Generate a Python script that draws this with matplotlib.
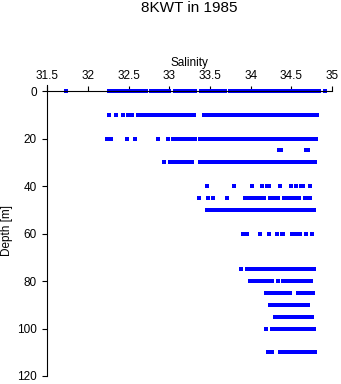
import matplotlib
matplotlib.use("Agg")
import matplotlib.pyplot as plt

plt.rcParams['font.family'] = ['Liberation Sans', 'DejaVu Sans']

# Depth levels [m] and the salinity readings found at each level
depths = [0, 10, 20, 25, 30, 40, 45, 50, 60, 75, 80, 85, 90, 95, 100, 110]

sal_0 = [31.73, 32.26,
         32.31, 32.33, 32.36, 32.39, 32.42, 32.45,
         32.51, 32.54, 32.57, 32.60, 32.63, 32.66, 32.71,
         32.77, 32.80, 32.83, 32.86, 32.89, 32.91, 32.93, 32.96, 32.99,
         33.07, 33.10, 33.13, 33.16, 33.19, 33.22, 33.25, 33.28, 33.31,
         33.39, 33.41, 33.44, 33.47,
         33.52, 33.55, 33.58, 33.61, 33.64, 33.67, 33.69,
         33.74, 33.77, 33.80, 33.83, 33.86, 33.89, 33.92, 33.95, 33.98,
         34.01, 34.04, 34.07, 34.09, 34.11, 34.14, 34.17,
         34.20, 34.23, 34.26, 34.28, 34.30, 34.34,
         34.37, 34.40, 34.43, 34.46,
         34.49, 34.52, 34.55, 34.58, 34.61, 34.64, 34.67, 34.70, 34.73,
         34.76, 34.79, 34.82, 34.84, 34.92]
sal_10 = [32.26, 32.34, 32.43, 32.49, 32.54,
          32.62, 32.65, 32.68, 32.71,
          32.74, 32.77, 32.80, 32.83, 32.86, 32.88,
          32.90, 32.93, 32.96, 32.99, 33.02, 33.05, 33.08, 33.11, 33.13,
          33.16, 33.19, 33.22, 33.25, 33.28, 33.30,
          33.43, 33.46, 33.49, 33.52, 33.55, 33.57, 33.60, 33.63, 33.65,
          33.70, 33.73, 33.76, 33.79, 33.82, 33.85, 33.88, 33.91, 33.94,
          33.97, 34.00, 34.03, 34.06, 34.09, 34.11,
          34.14, 34.17, 34.19, 34.22, 34.25, 34.28, 34.30, 34.33, 34.36,
          34.39, 34.42, 34.45,
          34.47, 34.50, 34.53, 34.56, 34.59, 34.62, 34.65, 34.68, 34.71,
          34.74, 34.77, 34.80, 34.82]
sal_20 = [32.23, 32.28, 32.48, 32.58, 32.86, 32.98,
          33.04, 33.07, 33.10, 33.13, 33.16, 33.19, 33.22,
          33.27, 33.30, 33.32,
          33.38, 33.41, 33.44, 33.47, 33.50, 33.53, 33.57, 33.60,
          33.64, 33.67, 33.70, 33.73, 33.76, 33.79, 33.82, 33.85, 33.88,
          33.91, 33.94, 33.97, 34.00, 34.03, 34.06, 34.09, 34.12, 34.15,
          34.18, 34.21, 34.24, 34.27, 34.30, 34.33, 34.36, 34.39, 34.42, 34.44,
          34.47, 34.50, 34.53, 34.56, 34.59, 34.62, 34.65, 34.68, 34.71,
          34.74, 34.77, 34.80]
sal_25 = [34.35, 34.37, 34.68, 34.70]
sal_30 = [32.93, 33.01, 33.05, 33.09, 33.14, 33.17,
          33.20, 33.23, 33.26, 33.28,
          33.38, 33.41, 33.44, 33.47, 33.50, 33.53, 33.56, 33.59, 33.62,
          33.65, 33.67,
          33.70, 33.73, 33.76, 33.79, 33.82, 33.85, 33.88, 33.91, 33.94,
          33.97, 34.00, 34.03, 34.06, 34.09, 34.11,
          34.13, 34.16, 34.19, 34.22, 34.25, 34.28, 34.31, 34.34, 34.37,
          34.40, 34.43, 34.46, 34.49, 34.52, 34.55, 34.58, 34.61, 34.64,
          34.67, 34.70, 34.73, 34.76, 34.79]
sal_40 = [33.46, 33.79, 34.02, 34.14, 34.20, 34.22, 34.36, 34.50,
          34.56, 34.62, 34.64, 34.73]
sal_45 = [33.36, 33.47, 33.54, 33.71, 33.93, 33.96, 33.99, 34.02, 34.05,
          34.09, 34.12, 34.15, 34.17, 34.24, 34.27, 34.30, 34.33, 34.41,
          34.46, 34.49, 34.52, 34.55, 34.58, 34.60, 34.67, 34.70, 34.73]
sal_50 = [33.46, 33.49, 33.52, 33.55, 33.57, 33.62, 33.65, 33.68, 33.70,
          33.72, 33.75, 33.78, 33.81, 33.84, 33.87, 33.90, 33.93, 33.96,
          33.98, 34.01, 34.04, 34.07, 34.10, 34.13, 34.16, 34.19,
          34.21, 34.24, 34.27, 34.30, 34.33, 34.36, 34.39, 34.42, 34.45,
          34.48, 34.51, 34.54, 34.57, 34.60, 34.63, 34.66, 34.69, 34.72,
          34.75, 34.78]
sal_60 = [33.90, 33.95, 34.11, 34.22, 34.32, 34.38, 34.40, 34.51, 34.56,
          34.61, 34.68, 34.75]
sal_75 = [33.88, 33.95, 33.98, 34.01, 34.04, 34.07, 34.10,
          34.12, 34.15, 34.18, 34.21, 34.24, 34.27, 34.29,
          34.30, 34.33, 34.36, 34.39, 34.42, 34.45, 34.48, 34.51, 34.54,
          34.57, 34.60, 34.63, 34.66, 34.69, 34.72, 34.75, 34.78]
sal_80 = [33.99, 34.02, 34.05, 34.08, 34.11, 34.17, 34.20, 34.23, 34.26,
          34.33, 34.40, 34.43, 34.46, 34.49, 34.52, 34.54, 34.57, 34.60,
          34.63, 34.66, 34.68, 34.71, 34.74]
sal_85 = [34.19, 34.22, 34.25, 34.27, 34.32, 34.35, 34.40, 34.43, 34.46,
          34.48, 34.58, 34.61, 34.64, 34.67, 34.70, 34.72, 34.74, 34.77]
sal_90 = [34.24, 34.27, 34.29, 34.31, 34.34, 34.37, 34.40, 34.43, 34.45,
          34.48, 34.51, 34.53, 34.55, 34.58, 34.61, 34.63, 34.65, 34.68, 34.71]
sal_95 = [34.30, 34.33, 34.36, 34.39, 34.42, 34.46, 34.49, 34.52, 34.55,
          34.57, 34.60, 34.63, 34.66, 34.70, 34.73, 34.76]
sal_100 = [34.19, 34.26, 34.29, 34.32, 34.34, 34.36, 34.39, 34.42, 34.45,
           34.48, 34.51, 34.54, 34.57, 34.60, 34.63, 34.66, 34.69, 34.72,
           34.75, 34.78]
sal_110 = [34.21, 34.26, 34.36, 34.39, 34.42, 34.45, 34.48, 34.50, 34.52,
           34.55, 34.58, 34.60, 34.63, 34.66, 34.68, 34.70, 34.73, 34.76, 34.79]

salinity = [sal_0, sal_10, sal_20, sal_25, sal_30, sal_40, sal_45, sal_50,
            sal_60, sal_75, sal_80, sal_85, sal_90, sal_95, sal_100, sal_110]

x_ticks = [31.5, 32, 32.5, 33, 33.5, 34, 34.5, 35]
x_tick_labels = ['31.5', '32', '32.5', '33', '33.5', '34', '34.5', '35']
y_ticks = [0, 20, 40, 60, 80, 100, 120]

W, H = 341, 384
fig = plt.figure(figsize=(W / 100, H / 100), dpi=100)
ax = fig.add_axes([47.3 / W, 1 - 376 / H, (332 - 47.3) / W, (376 - 84.7) / H])

xs, ys = [], []
for d, vals in zip(depths, salinity):
    xs += vals
    ys += [d] * len(vals)
ax.plot(xs, ys, 's', color='#0000ff', ms=2.2, mew=0, linestyle='none',
        antialiased=False)

ax.set_xlim(31.5, 35)
ax.set_ylim(120, -2.7)

# x axis drawn along depth 0, ticks pointing up
ax.spines['top'].set_position(('data', 0))
ax.spines['bottom'].set_visible(False)
ax.spines['right'].set_visible(False)
for s in ['top', 'left']:
    ax.spines[s].set_linewidth(0.8)
ax.xaxis.tick_top()
ax.xaxis.set_label_position('top')
ax.set_xticks(x_ticks)
ax.set_xticklabels(x_tick_labels)
ax.set_yticks(y_ticks)
ax.tick_params(axis='x', direction='out', length=3.5, width=0.8, pad=3, labelsize=8.5)
ax.tick_params(axis='y', direction='out', length=3.5, width=0.8, pad=4, labelsize=8.5)

ax.set_xlabel('Salinity', fontsize=8.5, labelpad=3)
ax.set_ylabel('Depth [m]', fontsize=8.5, labelpad=3)

fig.text(189.6 / W, 1 - 8 / H, '8KWT in 1985', ha='center', va='center', fontsize=11)

fig.savefig('out.png', dpi=100)
